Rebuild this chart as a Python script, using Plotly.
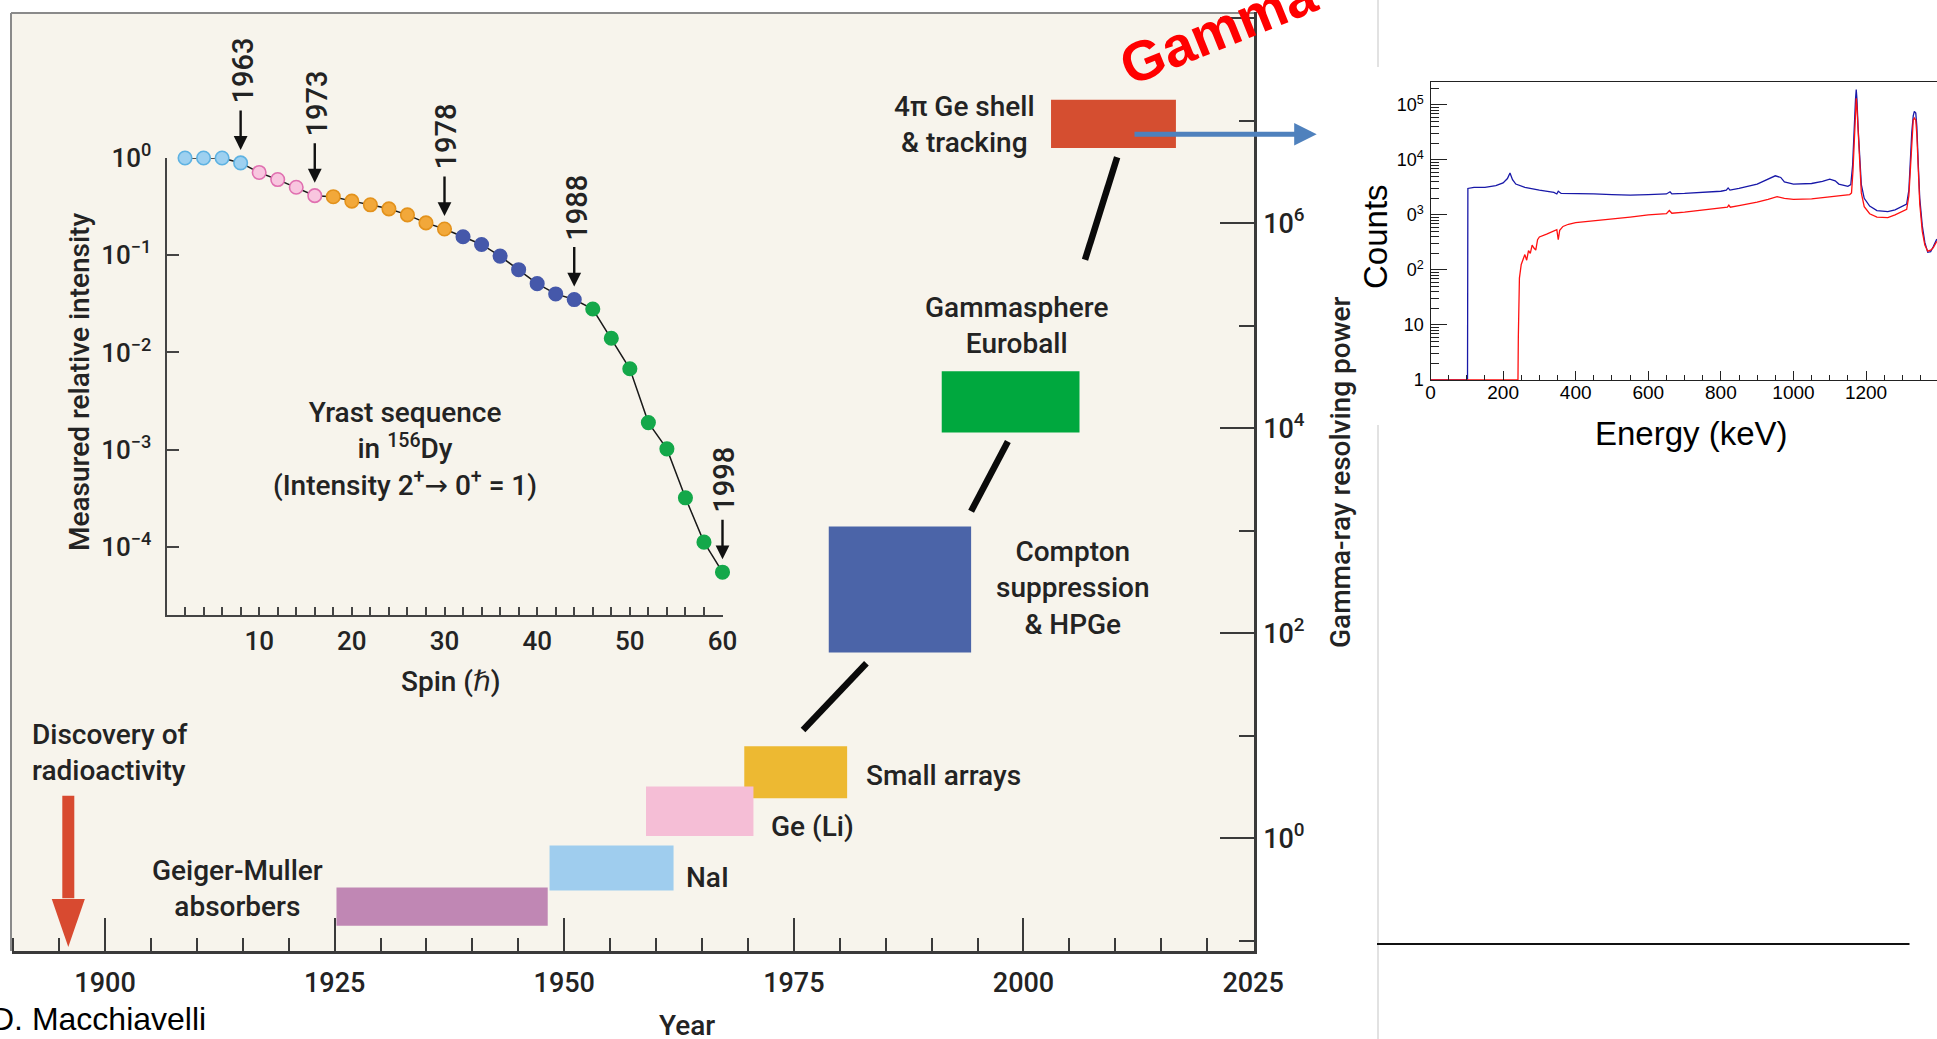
import numpy as np
import plotly.graph_objects as go

W, H = 1937, 1039


def px(x):
    return x / W


def py(y):
    return 1 - y / H


# ---------------- data ----------------
# Yrast sequence in 156Dy (inset)
spin = [2, 4, 6, 8, 10, 12, 14, 16, 18, 20, 22, 24, 26, 28, 30, 32, 34, 36, 38, 40,
        42, 44, 46, 48, 50, 52, 54, 56, 58, 60]
intensity = [1.0, 1.0, 1.0, 0.89, 0.71, 0.60, 0.50, 0.41, 0.40, 0.36, 0.33, 0.30,
             0.26, 0.215, 0.186, 0.155, 0.129, 0.098, 0.071, 0.051, 0.040, 0.035,
             0.028, 0.014, 0.0068, 0.0019, 0.00102, 0.00032, 0.000112, 0.000055]
era_names = ["to 1963", "1963-1973", "1973-1978", "1978-1988", "1988-1998"]
era_first_spin = [2, 10, 18, 32, 46]
era_last_spin = [8, 16, 30, 44, 60]
era_fill = ["#9DD0F0", "#F8C6DF", "#F2A83A", "#4558AA", "#14A84A"]
era_edge = ["#5EB2E2", "#E070B0", "#E3921C", "#4558AA", "#14A84A"]

mark_years = [1963, 1973, 1978, 1988, 1998]
mark_spin = [8, 16, 30, 44, 60]

# Detector eras (main chart)
det_labels = ["Geiger-Muller<br>absorbers", "NaI", "Small arrays", "Ge (Li)",
              "Compton<br>suppression<br>& HPGe", "Gammasphere<br>Euroball",
              "4π Ge shell<br>& tracking"]
det_start = [1925.2, 1948.4, 1969.6, 1958.9, 1978.8, 1991.1, 2003.0]
det_end = [1948.2, 1961.9, 1980.8, 1970.6, 1994.3, 2006.1, 2016.6]
det_low = [0.14, 0.31, 2.45, 1.05, 65, 9100, 5.4e6]
det_high = [0.33, 0.85, 7.9, 3.2, 1100, 36000, 1.6e7]
det_color = ["#C087B4", "#9FCDEE", "#EDB932", "#F5BED6", "#4B64A8", "#00A83E", "#D54E30"]

# trend connectors (year, resolving power)
conn_x0 = [1976.0, 1994.3, 2006.7]
conn_x1 = [1982.9, 1998.3, 2010.2]
conn_y0 = [11.4, 1550, 4.4e5]
conn_y1 = [51, 7400, 4.4e6]

discovery_year = 1896

# Spectrum (Counts vs Energy)
blue_e = [0, 102, 103, 120, 150, 180, 200, 212, 219, 226, 235, 260, 300, 340, 348, 352,
          360, 400, 450, 500, 550, 600, 650, 660, 665, 700, 750, 800, 815, 820, 825, 850,
          900, 930, 950, 965, 975, 1000, 1050, 1080, 1100, 1115, 1125, 1150, 1158, 1163,
          1167, 1171, 1173, 1175, 1178, 1182, 1187, 1195, 1210, 1230, 1260, 1280, 1300,
          1312, 1318, 1322, 1326, 1330, 1333, 1337, 1340, 1344, 1348, 1355, 1362, 1370,
          1378, 1385, 1395]
blue_c = [1, 1, 3020, 3160, 3160, 3390, 3800, 4570, 5750, 4370, 3630, 3160, 2820, 2570,
          2400, 2690, 2450, 2450, 2400, 2340, 2290, 2340, 2400, 2630, 2400, 2450, 2570,
          2690, 2820, 3090, 2820, 3020, 3630, 4470, 5130, 4790, 3980, 3630, 3720, 4070,
          4470, 4170, 3630, 3310, 3550, 7940, 39800, 126000, 190000, 126000, 39800, 10000,
          3550, 2000, 1450, 1200, 1150, 1230, 1410, 1580, 2820, 10000, 31600, 63100, 75900,
          70800, 39800, 7940, 2000, 630, 316, 209, 214, 263, 363]
red_e = [0, 241, 242, 243, 245, 250, 255, 260, 265, 270, 275, 280, 285, 290, 295, 300,
         320, 340, 348, 352, 356, 365, 380, 400, 450, 500, 550, 600, 650, 658, 665, 700,
         750, 800, 818, 822, 826, 850, 900, 930, 955, 975, 1000, 1050, 1100, 1130, 1155,
         1160, 1164, 1168, 1171, 1173, 1175, 1178, 1182, 1187, 1195, 1210, 1230, 1260,
         1280, 1300, 1312, 1318, 1322, 1326, 1330, 1333, 1337, 1340, 1344, 1348, 1355,
         1362, 1370, 1378, 1385, 1395]
red_c = [1, 1, 6, 16, 71, 126, 158, 190, 150, 224, 200, 282, 250, 230, 355, 398, 447,
         513, 537, 355, 525, 617, 676, 724, 776, 851, 912, 1000, 1050, 1200, 1070, 1120,
         1230, 1320, 1380, 1510, 1380, 1480, 1700, 1910, 2140, 2000, 1910, 1950, 2090,
         2240, 2340, 2510, 6310, 31600, 89100, 132000, 89100, 31600, 7940, 2510, 1410,
         1050, 912, 891, 1000, 1150, 1260, 2240, 7940, 25100, 52500, 57500, 52500, 28200,
         6310, 1580, 501, 282, 219, 229, 251, 331]

# ---------------- figure ----------------
FONT = "Roboto, DejaVu Sans, sans-serif"
TXT = "#232323"
ARIAL = "Liberation Sans, Arial, sans-serif"

fig = go.Figure()

# detector boxes
for s, e, lo, hi, c in zip(det_start, det_end, det_low, det_high, det_color):
    fig.add_trace(go.Scatter(x=[s, e, e, s, s], y=[lo, lo, hi, hi, lo], mode="lines",
                             fill="toself", fillcolor=c, line=dict(width=0, color=c),
                             hoverinfo="skip", xaxis="x", yaxis="y"))
# connectors
for x0, x1, y0, y1 in zip(conn_x0, conn_x1, conn_y0, conn_y1):
    fig.add_trace(go.Scatter(x=[x0, x1], y=[y0, y1], mode="lines",
                             line=dict(width=6.5, color="#0a0a0a"), hoverinfo="skip",
                             xaxis="x", yaxis="y"))
# discovery of radioactivity arrow
fig.add_trace(go.Scatter(x=[discovery_year, discovery_year], y=[2.6, 0.26], mode="lines",
                         line=dict(width=12, color="#D84A30"), hoverinfo="skip",
                         xaxis="x", yaxis="y"))
fig.add_trace(go.Scatter(x=[discovery_year - 1.8, discovery_year + 1.8, discovery_year,
                            discovery_year - 1.8],
                         y=[0.255, 0.255, 0.087, 0.255], mode="lines", fill="toself",
                         fillcolor="#D84A30", line=dict(width=0, color="#D84A30"),
                         hoverinfo="skip", xaxis="x", yaxis="y"))

# inset: connecting line + era markers
fig.add_trace(go.Scatter(x=spin, y=intensity, mode="lines",
                         line=dict(width=1.5, color="#1a1a1a"), hoverinfo="skip",
                         xaxis="x2", yaxis="y2"))
for name, a, b, fc, ec in zip(era_names, era_first_spin, era_last_spin, era_fill, era_edge):
    xs = [s for s in spin if a <= s <= b]
    ys = [v for s, v in zip(spin, intensity) if a <= s <= b]
    fig.add_trace(go.Scatter(x=xs, y=ys, mode="markers", name=name,
                             marker=dict(size=13.5, color=fc, line=dict(width=1.6, color=ec)),
                             cliponaxis=False, hoverinfo="skip", xaxis="x2", yaxis="y2"))

# spectrum
fig.add_trace(go.Scatter(x=blue_e, y=blue_c, mode="lines", line=dict(width=1.3, color="#1818A8"),
                         hoverinfo="skip", xaxis="x3", yaxis="y3"))
fig.add_trace(go.Scatter(x=red_e, y=red_c, mode="lines", line=dict(width=1.3, color="#FF1010"),
                         hoverinfo="skip", xaxis="x3", yaxis="y3"))

ann = []
# year arrows in inset
for yr, sp in zip(mark_years, mark_spin):
    val = intensity[spin.index(sp)]
    ann.append(dict(x=sp, y=np.log10(val), xref="x2", yref="y2", text="", showarrow=True,
                    ax=0, ay=-54, standoff=13, arrowhead=2, arrowsize=1.15, arrowwidth=2.4,
                    arrowcolor="#111"))
    ann.append(dict(x=sp, y=np.log10(val), xref="x2", yref="y2", text=str(yr),
                    showarrow=False, yshift=92, xshift=2, textangle=-90,
                    xanchor="center", yanchor="middle",
                    font=dict(family=FONT, size=29, color=TXT, weight=500)))

# labels for detector boxes
label_pos = {
    "Geiger-Muller<br>absorbers": (237, 888),
    "NaI": (707, 877),
    "Small arrays": (943, 775),
    "Ge (Li)": (812, 826),
    "Compton<br>suppression<br>& HPGe": (1073, 588),
    "Gammasphere<br>Euroball": (1016, 326),
    "4π Ge shell<br>& tracking": (964, 124),
}


def label(x, y, text, size=28, family=FONT, color=TXT, angle=0, xanchor="center",
          align="center", weight=500):
    return dict(x=px(x), y=py(y), xref="paper", yref="paper", text=text, showarrow=False,
                xanchor=xanchor, yanchor="middle", align=align, textangle=angle,
                font=dict(family=family, size=size, color=color, weight=weight))


for lab in det_labels:
    x, y = label_pos[lab]
    ann.append(label(x, y, lab))

ann += [
    label(30, 752, "Discovery of<br>radioactivity", xanchor="left", align="left"),
    label(405, 449, "Yrast sequence<br>in <sup>156</sup>Dy<br>(Intensity 2<sup>+</sup>→ 0<sup>+</sup> = 1)"),
    label(79, 382, "Measured relative intensity", angle=-90),
    label(451, 681, "Spin (ℏ)"),
    label(1340, 473, "Gamma-ray resolving power", angle=-90),
    label(687, 1025, "Year"),
    label(208, 1019, "D. Macchiavelli", size=32, family=ARIAL, color="#000",
          xanchor="right", weight=400),
    label(1376, 237, "Counts", size=33, family=ARIAL, color="#000", angle=-90, weight=400),
    label(1691, 433, "Energy (keV)", size=33, family=ARIAL, color="#000", weight=400),
    label(1218, 29, "<b>Gamma</b>", size=56, family=ARIAL, color="#FF0000", angle=-22,
          weight=400),
    dict(x=px(1316.7), y=py(134.3), ax=-183.7, ay=0, xref="paper", yref="paper",
         text="", showarrow=True, arrowhead=2, arrowsize=0.9,
         arrowwidth=5, arrowcolor="#4F81BD"),
]

shapes = [
    dict(type="rect", xref="x domain", yref="y domain", x0=0, x1=1, y0=0, y1=1,
         fillcolor="#F7F4EC", line=dict(width=0), layer="below"),
    dict(type="line", xref="paper", yref="paper", x0=px(11), x1=px(1254), y0=py(13), y1=py(13),
         line=dict(color="#8a8a8a", width=2)),
    dict(type="line", xref="paper", yref="paper", x0=px(11), x1=px(11), y0=py(13), y1=py(951),
         line=dict(color="#8a8a8a", width=2)),
    dict(type="line", xref="paper", yref="paper", x0=px(1378), x1=px(1378), y0=py(0), y1=py(67),
         line=dict(color="#d8d8d8", width=1.5)),
    dict(type="line", xref="paper", yref="paper", x0=px(1378), x1=px(1378), y0=py(425), y1=py(1039),
         line=dict(color="#d8d8d8", width=1.5)),
    dict(type="line", xref="paper", yref="paper", x0=px(1377), x1=px(1909.5), y0=py(944), y1=py(944),
         line=dict(color="#111", width=2)),
]

tickfont = dict(family=FONT, size=27, color=TXT, weight=500)
fig.update_layout(
    template="none",
    width=W, height=H, margin=dict(l=0, r=0, t=0, b=0, pad=0, autoexpand=False),
    showlegend=False,
    paper_bgcolor="white", plot_bgcolor="rgba(0,0,0,0)",
    annotations=ann, shapes=shapes,
    xaxis=dict(domain=[px(12), px(1254)], range=[1889.87, 2025.1], anchor="y", automargin=False,
               showgrid=False, zeroline=False, showline=True, linecolor="#3a3a3a", linewidth=2.5,
               ticks="inside", ticklen=33, tickwidth=2, tickcolor="#3a3a3a", tick0=1900, dtick=25,
               minor=dict(ticks="inside", ticklen=13, tickwidth=2, tickcolor="#3a3a3a", dtick=5,
                          tick0=1900, showgrid=False),
               tickfont=tickfont, ticklabelstandoff=6),
    yaxis=dict(domain=[py(951), py(12)], type="log", range=[-1.10, 8.06], anchor="x", side="right",
               automargin=False,
               showgrid=False, zeroline=False, showline=True, linecolor="#3a3a3a", linewidth=2.5,
               ticks="inside", ticklen=34, tickwidth=2, tickcolor="#3a3a3a",
               tickmode="array", tickvals=[1, 1e2, 1e4, 1e6, 1e8],
               ticktext=["10<sup>0</sup>", "10<sup>2</sup>", "10<sup>4</sup>", "10<sup>6</sup>",
                         "10<sup>8</sup>"],
               minor=dict(ticks="inside", ticklen=15, tickwidth=2, tickcolor="#3a3a3a",
                          tickmode="array", tickvals=[0.1, 10, 1e3, 1e5, 1e7], showgrid=False),
               tickfont=tickfont, ticklabelstandoff=1),
    xaxis2=dict(domain=[px(166.5), px(722.5)], range=[0, 60], anchor="y2", automargin=False,
                showgrid=False, zeroline=False, showline=True, linecolor="#444", linewidth=2,
                ticks="inside", ticklen=8, tickwidth=2, tickcolor="#444",
                minor=dict(ticks="inside", ticklen=8, tickwidth=2, tickcolor="#444", dtick=2,
                           showgrid=False),
                tickmode="array", tickvals=[10, 20, 30, 40, 50, 60],
                tickfont=dict(family=FONT, size=26, color=TXT, weight=500), ticklabelstandoff=2),
    yaxis2=dict(domain=[py(615), py(158)], type="log", range=[-4.7, 0], anchor="x2",
                automargin=False,
                showgrid=False, zeroline=False, showline=True, linecolor="#444", linewidth=2,
                ticks="inside", ticklen=12, tickwidth=2, tickcolor="#444",
                tickmode="array", tickvals=[1, 0.1, 0.01, 0.001, 0.0001],
                ticktext=["10<sup>0</sup>", "10<sup>−1</sup>", "10<sup>−2</sup>",
                          "10<sup>−3</sup>", "10<sup>−4</sup>"],
                tickfont=dict(family=FONT, size=26, color=TXT, weight=500), ticklabelstandoff=8),
    xaxis3=dict(domain=[px(1430.5), 1.0], range=[0, 1395.5], anchor="y3", automargin=False,
                showgrid=False, zeroline=False, showline=True, mirror=True, linecolor="#222",
                linewidth=1.2, ticks="inside", ticklen=9, tickwidth=1, tickcolor="#222",
                tick0=0, dtick=200,
                minor=dict(ticks="inside", ticklen=5, tickwidth=1, tickcolor="#222", dtick=50,
                           showgrid=False),
                tickfont=dict(family=ARIAL, size=19, color="#000"), ticklabelstandoff=-5),
    yaxis3=dict(domain=[py(380), py(81.7)], type="log", range=[0, 5.42], anchor="x3",
                automargin=False,
                showgrid=False, zeroline=False, showline=True, mirror=True, linecolor="#222",
                linewidth=1.2, ticks="inside", ticklen=16, tickwidth=1, tickcolor="#222",
                tickmode="array", tickvals=[1, 10, 100, 1000, 1e4, 1e5],
                ticktext=["1", "10", "0<sup>2</sup>", "0<sup>3</sup>", "10<sup>4</sup>",
                          "10<sup>5</sup>"],
                minor=dict(ticks="inside", ticklen=8, tickwidth=1, tickcolor="#222",
                           tickmode="array",
                           tickvals=[m * 10 ** d for d in range(0, 6) for m in range(2, 10)],
                           showgrid=False),
                tickfont=dict(family=ARIAL, size=18, color="#000"), ticklabelstandoff=2),
)

fig.write_html("out.html", config={"displayModeBar": False},
               post_script="document.body.style.margin='0';document.body.style.overflow='hidden';")
